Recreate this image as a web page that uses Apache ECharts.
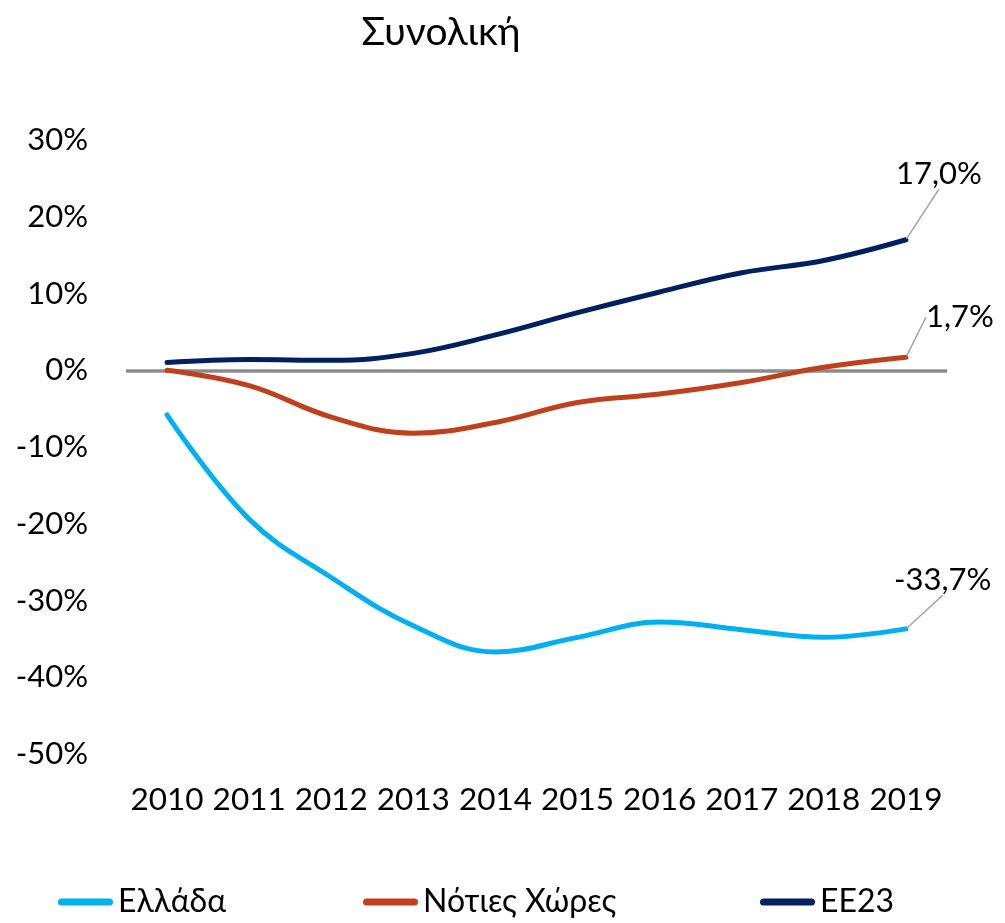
<!DOCTYPE html>
<html>
<head>
<meta charset="utf-8">
<script src="https://cdn.jsdelivr.net/npm/echarts@6/dist/echarts.min.js"></script>
<style>
  html, body { margin: 0; padding: 0; background: #fff; }
  #chart { width: 1005px; height: 923px; }
</style>
</head>
<body>
<div id="chart"></div>
<script>
const YEARS = ['2010', '2011', '2012', '2013', '2014', '2015', '2016', '2017', '2018', '2019'];
const GREECE = [-5.8, -19.4, -27.0, -33.3, -36.7, -34.8, -32.8, -33.8, -34.8, -33.7];
const SOUTH = [0.0, -2.0, -6.1, -8.2, -6.8, -4.2, -3.1, -1.6, 0.4, 1.7];
const EU23 = [1.0, 1.4, 1.3, 2.2, 4.6, 7.5, 10.2, 12.7, 14.3, 17.0];
const Y_TICKS = [-50, -40, -30, -20, -10, 0, 10, 20, 30];

const FONT = 'Lato, "Open Sans", sans-serif';
const LEGEND_ICON = 'path://M3.5,0 H51.5 A3.5,3.5 0 0 1 51.5,7 H3.5 A3.5,3.5 0 0 1 3.5,0 Z';
const pct = v => v.toFixed(1).replace('.', ',') + '%';

function makeSeries(name, data, color, dx, dy) {
    const last = data.length - 1;
    return {
        name,
        type: 'line',
        smooth: 0.4,
        symbol: 'circle',
        symbolSize: 2,
        lineStyle: { color, width: 5, cap: 'round' },
        itemStyle: { color },
        data: data.map((v, i) => i === last ? {
            value: v,
            label: {
                show: true,
                position: 'right',
                formatter: p => pct(p.value),
                fontFamily: FONT,
                fontSize: 31,
                color: '#000'
            },
            labelLine: { show: true, lineStyle: { color: '#a6a6a6', width: 1.5 } }
        } : v),
        labelLayout: { dx, dy, moveOverlap: false },
        z: 3
    };
}

function makeLegend(name, left) {
    return {
        left,
        top: 881,
        icon: LEGEND_ICON,
        itemWidth: 55,
        itemHeight: 7,
        textStyle: { fontFamily: FONT, fontSize: 32, color: '#000' },
        data: [name]
    };
}

const chart = echarts.init(document.getElementById('chart'), null, { renderer: 'canvas' });
const option = {
    animation: false,
    title: {
        text: 'Συνολική',
        left: 436,
        textAlign: 'center',
        top: 8,
        textStyle: { fontFamily: FONT, fontSize: 39, fontWeight: 'normal', color: '#000' }
    },
    legend: [
        makeLegend('Ελλάδα', 53),
        makeLegend('Νότιες Χώρες', 358),
        makeLegend('ΕΕ23', 755)
    ],
    grid: { left: 126, right: 58, top: 140, bottom: 169 },
    xAxis: {
        type: 'category',
        data: YEARS,
        boundaryGap: true,
        axisLine: { show: false },
        axisTick: { show: false },
        axisLabel: { fontFamily: FONT, fontSize: 31.5, color: '#000', margin: 30, interval: 0 }
    },
    yAxis: {
        type: 'value',
        min: Y_TICKS[0],
        max: Y_TICKS[Y_TICKS.length - 1],
        interval: 10,
        splitLine: { show: false },
        axisLine: { show: false },
        axisTick: { show: false },
        axisLabel: {
            fontFamily: FONT, fontSize: 31, color: '#000', margin: 38,
            formatter: v => v + '%'
        }
    },
    series: [
        makeSeries('Ελλάδα', GREECE, '#00B0F0', -18, -49),
        makeSeries('Νότιες Χώρες', SOUTH, '#C0401E', 14, -40),
        Object.assign(makeSeries('ΕΕ23', EU23, '#002060', -16, -66), {
            markLine: {
                silent: true,
                symbol: 'none',
                label: { show: false },
                lineStyle: { color: '#8c8c8c', width: 3.5, type: 'solid' },
                data: [{ yAxis: 0 }],
                z: 1
            }
        })
    ]
};
chart.setOption(option);
window.addEventListener('resize', () => chart.resize());
</script>
</body>
</html>
